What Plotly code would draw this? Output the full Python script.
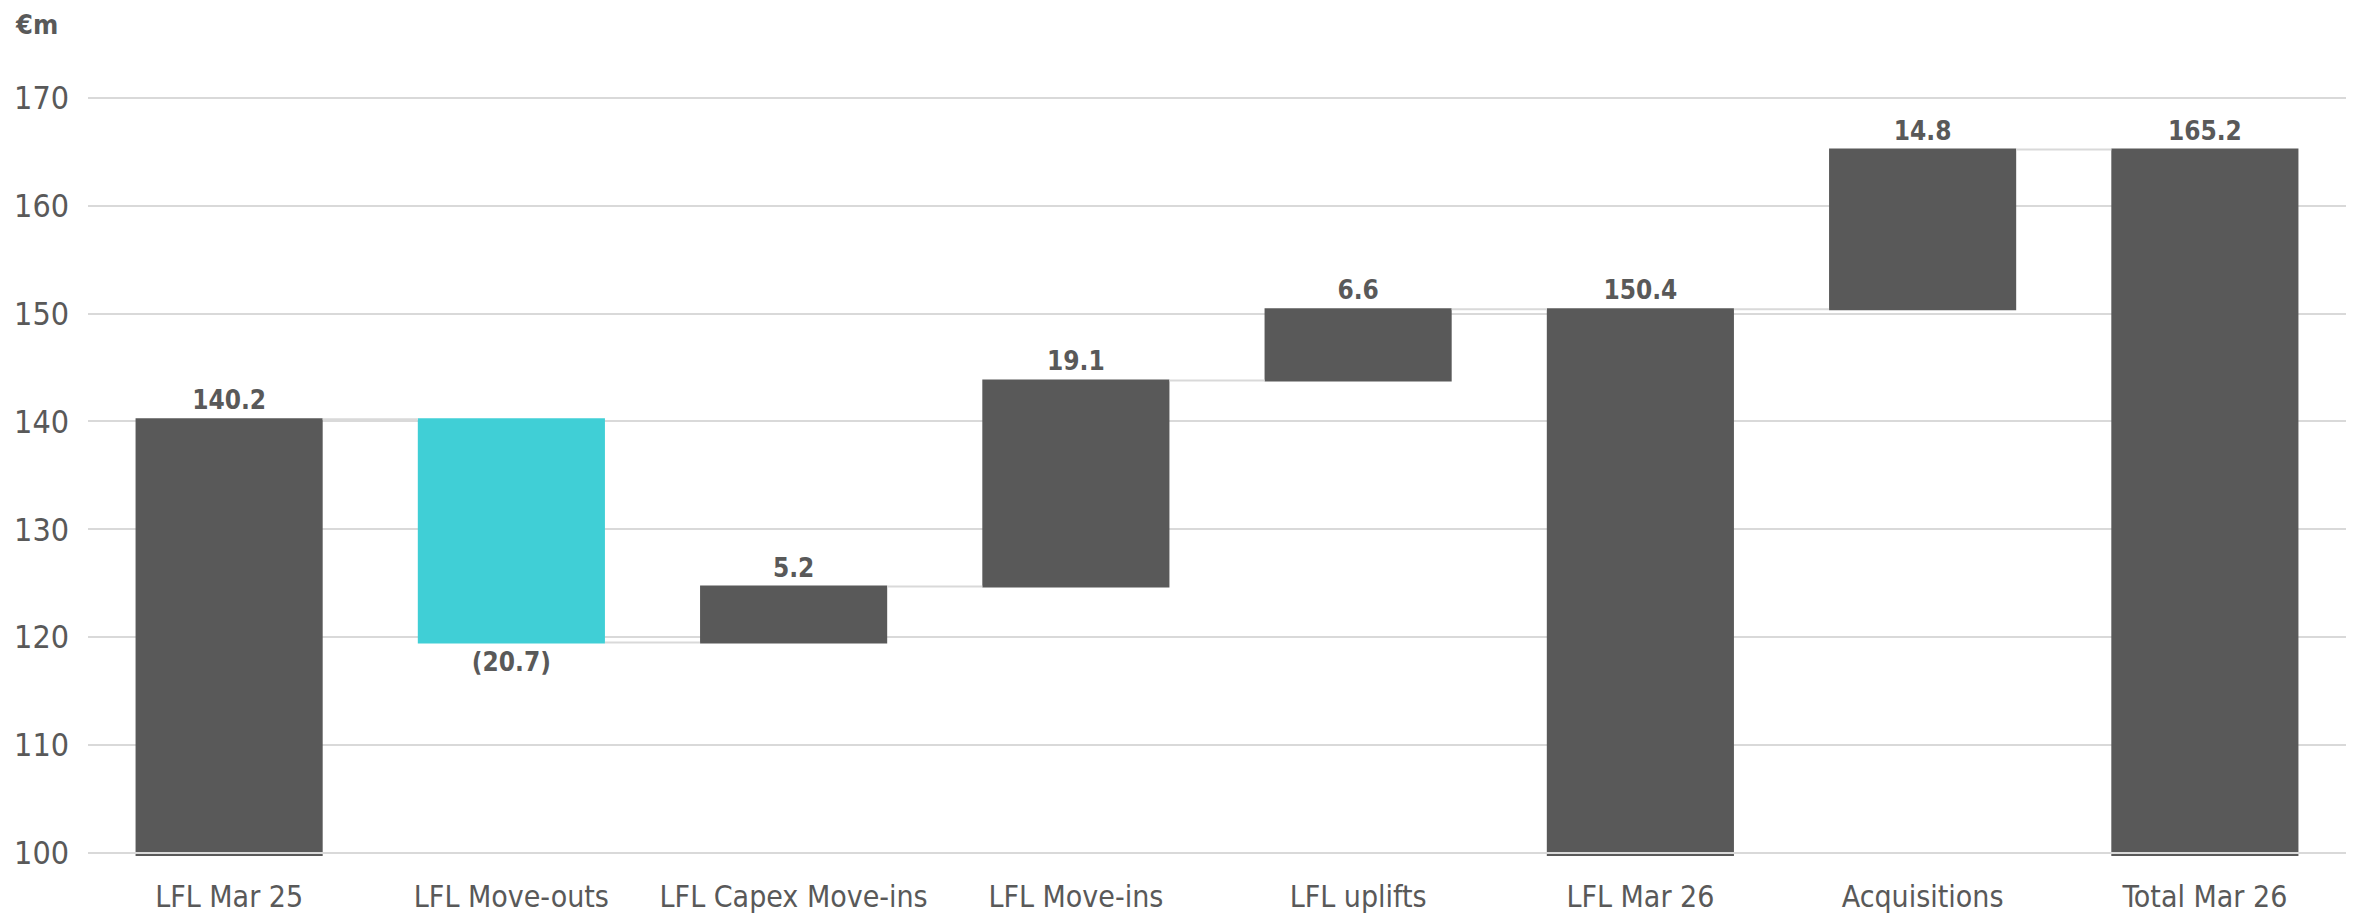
import plotly.graph_objects as go

# Bridge of revenue, €m
categories = ["LFL Mar 25", "LFL Move-outs", "LFL Capex Move-ins", "LFL Move-ins",
              "LFL uplifts", "LFL Mar 26", "Acquisitions", "Total Mar 26"]
measures = ["absolute", "relative", "relative", "relative",
            "relative", "total", "relative", "total"]
values = [140.2, -20.7, 5.2, 19.1, 6.6, 0, 14.8, 0]
y_ticks = [100, 110, 120, 130, 140, 150, 160, 170]

DARK = "#595959"
TEAL = "#40CFD6"
GRID = "#d9d9d9"
FONT = "DejaVu Sans Condensed, Roboto, sans-serif"

# label text: deltas for steps, running total for total bars, negatives in brackets
labels = []
running = 0.0
for m, v in zip(measures, values):
    if m == "absolute":
        running = v
        shown = v
    elif m == "relative":
        running += v
        shown = v
    else:
        shown = running
    labels.append(f"({abs(shown):.1f})" if shown < 0 else f"{shown:.1f}")

fig = go.Figure(go.Waterfall(
    x=categories,
    y=values,
    measure=measures,
    text=labels,
    textposition="outside",
    textfont=dict(family=FONT, size=26, color=DARK, weight="bold"),
    cliponaxis=False,
    increasing=dict(marker=dict(color=DARK)),
    decreasing=dict(marker=dict(color=TEAL)),
    totals=dict(marker=dict(color=DARK)),
    connector=dict(mode="between", line=dict(color=GRID, width=2)),
))

# baseline drawn over the bars
fig.add_shape(type="line", xref="paper", x0=0, x1=1, yref="y", y0=100, y1=100,
              line=dict(color=GRID, width=2), layer="above")

fig.add_annotation(text="<b>€m</b>", xref="paper", yref="paper",
                   x=-0.033, y=1.081, xanchor="left", yanchor="middle",
                   showarrow=False, font=dict(family=FONT, size=27, color=DARK))

fig.update_layout(
    width=2364, height=921,
    margin=dict(l=88, r=18, t=87, b=65),
    paper_bgcolor="white", plot_bgcolor="white",
    showlegend=False,
    waterfallgap=0.337,
    font=dict(family=FONT, color=DARK),
)
fig.update_xaxes(
    type="category", automargin=False,
    showgrid=False, showline=False, zeroline=False,
    ticks="", ticklabelstandoff=20,
    tickfont=dict(family=FONT, size=30, color=DARK),
)
fig.update_yaxes(
    range=[99.72, 171.0], automargin=False,
    tickvals=y_ticks,
    showgrid=True, gridcolor=GRID, gridwidth=2,
    zeroline=False, showline=False,
    ticks="", ticklabelstandoff=18,
    tickfont=dict(family=FONT, size=32, color=DARK),
)

fig.write_html("out.html")
